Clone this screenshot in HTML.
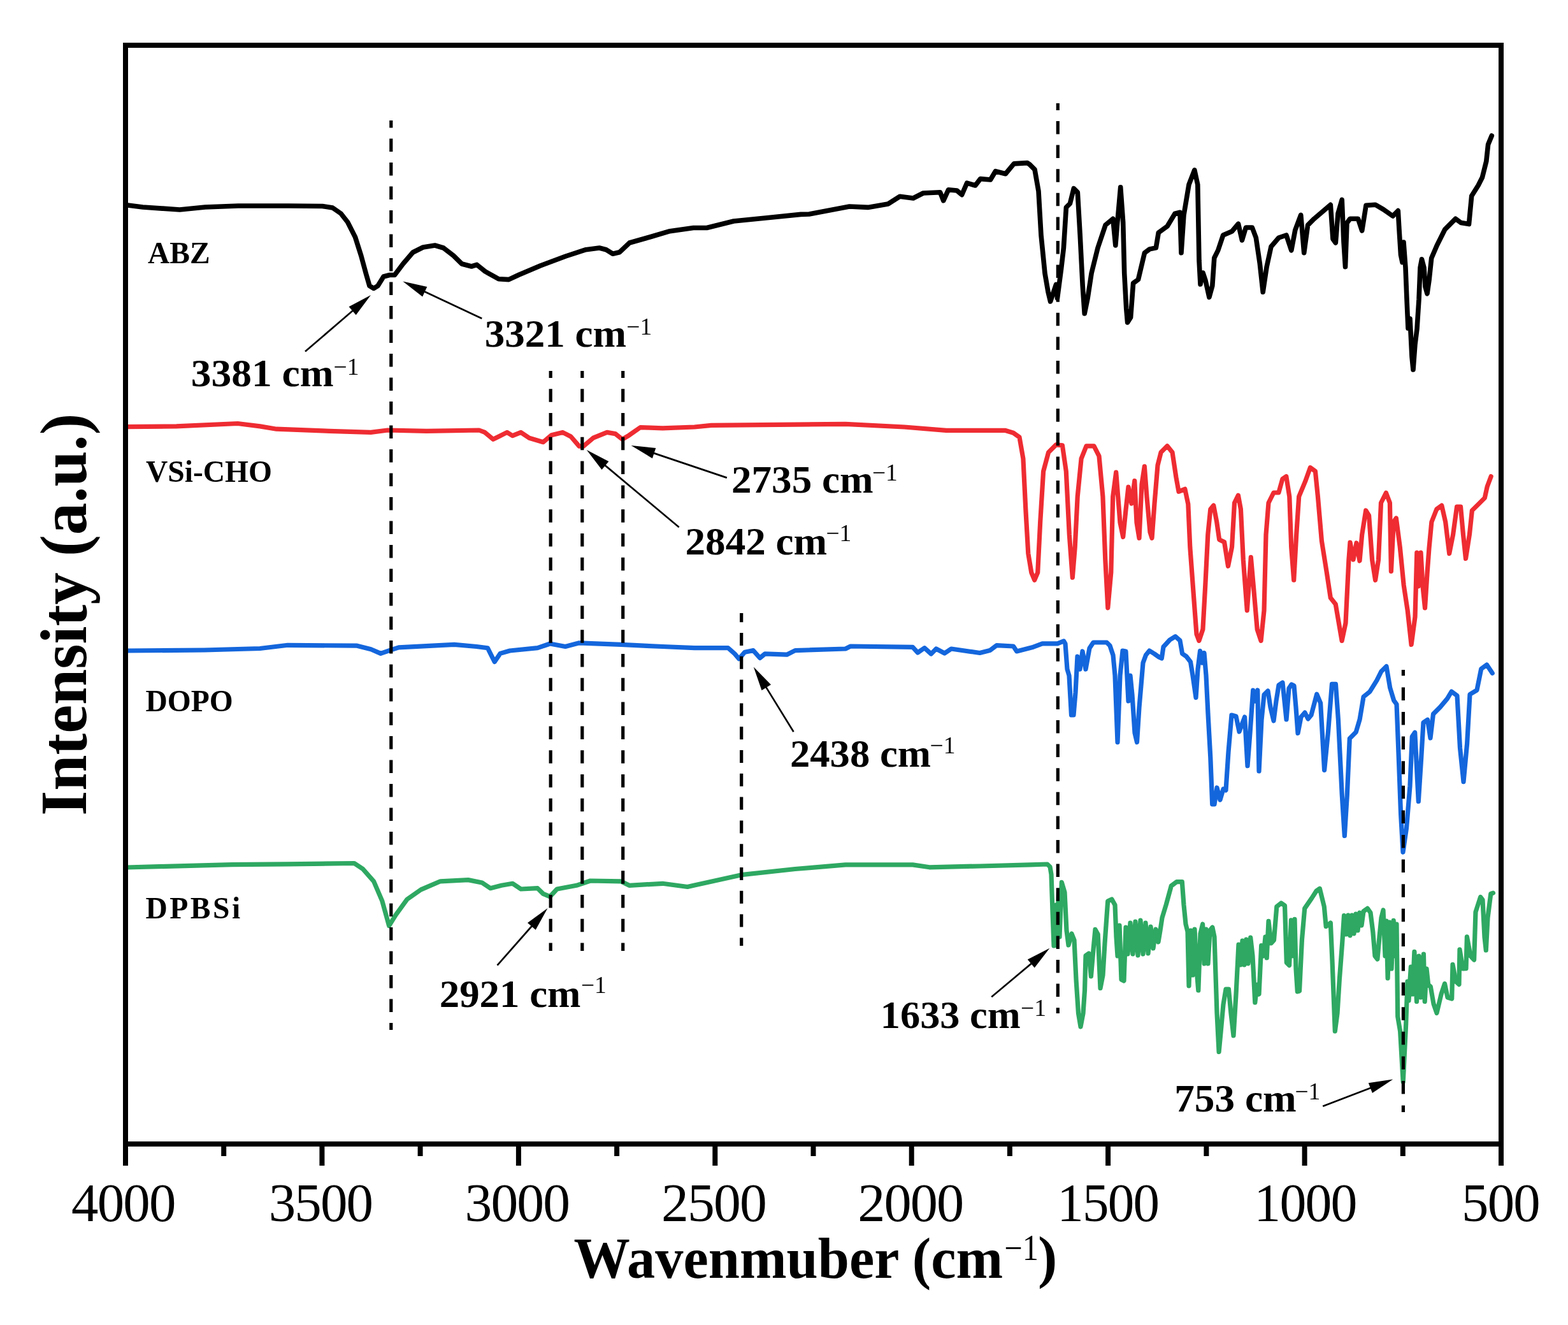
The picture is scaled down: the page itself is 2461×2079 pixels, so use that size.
<!DOCTYPE html>
<html><head><meta charset="utf-8"><title>FTIR spectra</title>
<style>html,body{margin:0;padding:0;background:#fff;overflow:hidden;width:2461px;height:2079px;} svg{display:block;filter:blur(0.6px);}</style>
</head><body>
<svg width="2461" height="2079" viewBox="0 0 2461 2079"><polyline points="200.5,322.0 224.0,325.0 282.0,329.0 322.0,325.0 374.0,323.0 453.0,323.0 506.0,323.5 522.0,326.0 535.0,335.0 545.6,348.5 557.5,372.0 566.7,401.0 574.6,430.0 580.0,448.6 586.5,452.5 593.0,448.6 602.0,434.0 611.5,431.5 619.4,431.5 632.6,414.0 648.0,396.0 664.0,388.0 682.6,385.0 696.0,389.0 711.6,401.0 724.8,414.0 740.0,418.0 748.4,415.4 761.6,426.0 782.7,437.8 798.5,438.6 814.3,431.2 848.5,416.7 888.0,402.0 919.7,391.7 940.7,389.0 951.3,391.7 961.8,398.3 972.4,395.7 988.0,381.0 1019.8,372.0 1051.4,362.7 1088.3,357.5 1109.3,357.5 1151.5,347.0 1204.0,341.7 1256.9,336.4 1270.0,336.0 1333.2,324.0 1362.2,325.4 1393.8,320.0 1412.3,308.3 1433.3,311.0 1449.0,303.0 1475.5,301.7 1480.7,314.8 1488.6,297.7 1501.8,299.0 1509.7,305.6 1517.6,287.2 1530.8,291.0 1538.7,280.6 1554.5,282.0 1562.4,268.7 1578.2,272.7 1591.4,256.9 1612.5,255.6 1616.0,258.0 1624.0,266.0 1630.0,300.0 1634.0,369.0 1640.0,429.0 1645.0,458.0 1648.6,473.0 1657.5,446.4 1659.5,468.0 1665.5,422.6 1669.4,389.0 1673.4,325.4 1679.4,319.4 1685.3,295.6 1691.3,301.6 1695.2,369.0 1699.2,448.4 1702.2,492.0 1707.1,468.0 1713.1,428.6 1723.0,388.9 1735.0,353.2 1746.8,343.3 1750.8,385.0 1753.8,349.0 1758.7,293.7 1762.7,349.0 1764.7,428.6 1767.7,484.0 1769.6,506.0 1774.6,498.0 1778.6,444.4 1786.5,438.5 1796.4,396.8 1804.4,390.9 1814.3,388.9 1818.3,365.0 1832.1,355.0 1844.0,335.3 1852.0,333.3 1854.0,396.8 1858.0,337.3 1866.0,289.7 1874.8,266.9 1879.8,289.7 1882.0,408.7 1884.0,446.0 1888.0,428.0 1892.0,440.0 1897.9,466.3 1902.8,448.4 1905.8,404.8 1911.7,392.9 1919.7,369.0 1933.6,363.0 1943.5,351.2 1949.4,377.0 1955.4,357.0 1965.3,357.0 1971.3,373.0 1977.2,412.7 1982.2,458.3 1988.1,418.7 1995.0,387.0 2007.0,373.0 2018.9,369.0 2026.8,392.9 2032.8,361.0 2041.7,337.3 2046.7,396.8 2052.6,353.2 2062.5,343.3 2088.3,321.4 2092.0,375.0 2096.3,381.0 2100.0,335.0 2106.2,313.5 2109.0,380.0 2111.5,418.7 2114.0,350.0 2118.9,343.2 2131.5,343.2 2137.7,362.0 2144.0,322.3 2158.7,321.2 2171.3,328.6 2186.0,339.0 2194.3,330.6 2196.0,360.0 2198.5,400.0 2201.0,411.6 2203.0,380.0 2206.0,420.0 2208.0,470.0 2210.0,515.0 2213.0,500.0 2216.0,560.0 2218.0,580.0 2221.0,540.0 2224.0,516.0 2227.0,470.0 2229.0,420.0 2231.5,406.8 2235.0,420.0 2237.0,450.0 2240.0,460.8 2243.0,440.0 2246.7,405.0 2255.2,385.2 2267.8,360.0 2284.5,343.2 2293.0,349.5 2305.5,351.6 2309.7,307.6 2320.2,290.8 2326.5,278.2 2332.8,253.0 2335.6,226.8 2341.3,213.0" fill="none" stroke="#000" stroke-width="7.6" stroke-linejoin="round" stroke-linecap="round"/>
<polyline points="198.7,669.7 277.0,668.9 373.0,664.5 408.0,668.9 434.0,673.2 517.0,676.3 582.0,678.4 608.4,675.0 669.4,676.3 752.0,675.0 761.0,678.4 774.0,689.3 782.7,685.0 795.8,678.4 804.5,683.7 817.6,678.4 830.7,687.2 852.5,693.7 865.5,682.8 883.0,678.4 896.0,685.0 909.0,700.2 915.6,700.2 931.0,687.2 952.7,678.4 965.8,680.6 976.7,689.3 987.6,682.8 1005.0,670.6 1040.0,671.9 1090.0,670.0 1116.3,667.4 1327.0,665.3 1419.3,670.0 1485.0,675.3 1577.4,675.3 1590.5,679.3 1600.0,686.0 1605.9,719.7 1609.8,799.0 1613.8,868.5 1618.8,898.3 1623.7,910.2 1628.7,898.3 1632.7,818.9 1637.6,739.5 1645.6,709.8 1657.5,697.9 1667.4,698.8 1673.3,739.5 1678.3,838.7 1683.3,906.2 1687.2,858.6 1691.2,779.2 1697.1,719.7 1705.0,699.8 1717.0,699.8 1725.0,715.7 1730.9,779.2 1734.8,878.4 1738.8,953.8 1743.8,898.3 1746.7,779.2 1751.7,741.0 1758.0,820.0 1762.7,842.5 1767.0,800.0 1771.0,764.0 1776.0,790.0 1780.8,754.5 1784.0,820.0 1788.0,844.3 1792.0,760.0 1796.3,731.8 1800.0,780.0 1805.0,835.0 1808.0,844.3 1812.0,790.0 1817.0,730.0 1822.1,709.8 1832.0,699.8 1840.0,709.8 1846.0,749.4 1850.0,771.3 1859.8,767.3 1864.8,791.0 1867.8,858.6 1873.7,938.0 1878.0,995.0 1881.9,1005.4 1887.9,987.5 1891.8,918.0 1895.8,838.7 1899.8,799.0 1904.7,793.0 1909.7,818.9 1913.7,846.7 1921.6,850.6 1927.5,888.3 1933.5,858.6 1937.5,789.0 1943.4,777.2 1947.4,799.0 1951.3,878.4 1957.3,957.8 1963.3,874.4 1967.2,918.0 1973.2,987.5 1979.1,1005.4 1984.0,957.8 1987.0,838.7 1991.0,789.0 1999.0,773.0 2006.9,773.0 2012.9,751.4 2018.8,747.5 2023.8,779.2 2026.7,858.6 2030.7,910.2 2034.7,838.7 2038.7,779.2 2048.6,755.4 2056.5,733.6 2064.4,739.5 2068.4,779.2 2074.4,848.7 2082.3,898.3 2088.3,938.0 2096.2,947.9 2106.1,1005.4 2112.0,977.7 2116.9,878.5 2119.0,851.0 2124.0,878.0 2129.0,852.0 2134.0,880.0 2137.7,838.8 2143.7,801.0 2148.6,809.0 2153.6,878.5 2158.6,910.3 2163.5,878.5 2167.5,789.0 2175.4,773.3 2181.4,789.0 2183.4,896.4 2187.3,819.0 2191.3,813.0 2197.3,858.6 2203.2,918.2 2209.2,957.9 2215.1,1011.5 2221.0,967.8 2223.8,867.0 2226.0,920.0 2230.0,867.0 2233.0,920.0 2236.5,954.0 2240.0,900.0 2243.0,860.0 2246.9,819.0 2254.8,799.0 2262.8,793.1 2268.7,819.0 2274.7,868.6 2280.6,838.8 2286.6,795.1 2292.5,795.1 2296.5,838.8 2300.5,876.5 2306.4,838.8 2310.4,801.0 2320.3,791.2 2330.3,781.2 2334.2,763.4 2340.2,747.5" fill="none" stroke="#EE2C32" stroke-width="7.2" stroke-linejoin="round" stroke-linecap="round"/>
<polyline points="198.7,1021.0 320.7,1020.0 408.0,1017.5 451.5,1012.3 560.4,1013.2 582.2,1018.8 597.5,1025.4 612.7,1020.1 625.8,1015.8 713.0,1011.4 747.8,1014.5 765.3,1016.7 776.2,1038.4 785.0,1025.4 800.2,1021.0 843.7,1016.7 863.3,1010.0 887.3,1014.5 909.0,1008.8 974.5,1011.4 1039.9,1014.5 1090.0,1016.6 1142.7,1016.6 1153.2,1025.9 1159.8,1033.8 1169.0,1023.2 1182.2,1020.6 1192.7,1032.4 1200.6,1025.9 1234.9,1027.2 1248.0,1020.6 1327.0,1018.0 1335.0,1014.0 1432.5,1015.3 1440.4,1024.0 1451.0,1016.6 1461.4,1026.0 1469.3,1018.0 1482.5,1025.0 1493.0,1018.0 1537.8,1024.5 1553.6,1020.6 1564.2,1012.7 1590.5,1014.0 1595.8,1021.9 1620.0,1015.8 1635.9,1009.8 1659.7,1009.8 1669.6,1005.9 1672.0,1010.0 1675.0,1050.0 1678.0,1060.0 1681.5,1122.0 1685.0,1122.0 1688.0,1087.0 1691.0,1030.0 1695.0,1050.0 1699.0,1022.0 1704.0,1050.0 1710.0,1017.0 1716.0,1008.0 1737.0,1008.0 1742.0,1013.0 1747.0,1028.0 1750.0,1060.0 1754.0,1164.6 1758.0,1060.0 1762.0,1021.0 1767.0,1022.0 1771.0,1100.0 1774.0,1060.0 1777.0,1090.0 1781.0,1150.0 1784.5,1164.6 1788.0,1110.0 1790.0,1087.0 1794.0,1040.0 1798.5,1027.7 1804.0,1021.0 1812.0,1026.0 1819.0,1031.0 1823.3,1033.0 1826.0,1015.0 1836.0,1004.0 1844.8,998.6 1852.0,1005.0 1855.6,1025.6 1862.0,1030.0 1868.5,1038.5 1872.0,1060.0 1877.0,1094.5 1880.0,1050.0 1883.6,1021.3 1887.0,1040.0 1890.0,1024.5 1893.0,1060.0 1896.0,1120.0 1899.8,1188.4 1902.7,1261.8 1906.0,1262.0 1910.0,1236.0 1915.0,1255.0 1920.0,1238.0 1924.0,1240.0 1928.0,1180.0 1933.0,1122.0 1940.0,1124.0 1945.0,1148.0 1953.6,1125.0 1958.0,1201.7 1962.0,1150.0 1966.7,1083.0 1970.0,1100.0 1973.8,1083.0 1976.0,1210.0 1980.0,1130.0 1984.0,1090.0 1990.0,1084.0 1994.0,1110.0 1999.0,1131.0 2003.0,1100.0 2007.0,1075.0 2013.0,1071.0 2016.0,1100.0 2019.0,1129.0 2023.0,1080.0 2027.0,1074.0 2031.0,1076.0 2034.0,1110.0 2037.0,1150.5 2042.0,1125.0 2048.0,1118.0 2053.0,1128.0 2058.0,1122.0 2066.7,1089.2 2072.6,1103.1 2078.6,1208.3 2084.5,1148.7 2090.5,1073.3 2096.4,1073.3 2100.4,1128.9 2106.3,1247.9 2110.3,1311.4 2114.3,1247.9 2118.3,1158.7 2128.2,1148.7 2134.1,1128.9 2140.1,1093.2 2150.0,1085.2 2161.0,1067.4 2167.9,1053.5 2176.0,1045.5 2181.7,1079.3 2187.7,1099.1 2192.0,1105.0 2195.3,1189.0 2198.6,1277.4 2202.0,1337.1 2207.5,1299.5 2213.0,1233.2 2216.3,1155.8 2220.7,1149.2 2226.3,1257.5 2230.7,1189.0 2234.0,1133.7 2240.6,1129.3 2245.0,1158.0 2249.5,1120.4 2260.5,1109.4 2271.6,1096.1 2278.2,1085.0 2287.0,1091.7 2291.5,1173.5 2297.0,1226.6 2302.6,1166.9 2307.0,1089.5 2318.0,1082.9 2324.7,1049.7 2333.5,1043.0 2342.3,1056.3" fill="none" stroke="#1466DC" stroke-width="7.2" stroke-linejoin="round" stroke-linecap="round"/>
<polyline points="198.7,1361.0 364.3,1356.7 451.5,1355.8 556.0,1354.5 569.2,1363.2 586.6,1382.8 599.7,1413.3 610.6,1452.5 621.5,1435.1 638.9,1411.1 660.7,1395.9 691.2,1382.8 734.8,1380.6 756.6,1385.0 769.7,1393.7 787.1,1389.3 804.5,1386.3 817.6,1395.0 843.7,1393.7 852.5,1402.4 863.3,1406.8 874.2,1395.0 904.8,1389.3 926.5,1382.0 974.5,1382.8 987.6,1389.3 1039.9,1386.3 1079.0,1391.5 1090.0,1389.0 1163.8,1372.7 1248.0,1363.5 1327.0,1356.9 1432.5,1356.9 1458.8,1360.8 1537.8,1359.0 1616.9,1356.9 1643.8,1356.0 1648.0,1360.0 1650.0,1372.0 1652.0,1430.0 1654.0,1484.0 1657.0,1420.0 1659.0,1484.0 1661.5,1400.0 1663.0,1470.0 1666.3,1384.4 1671.0,1400.0 1674.0,1460.0 1677.0,1483.0 1682.0,1465.0 1686.0,1475.0 1689.0,1537.0 1692.5,1590.0 1696.0,1611.0 1700.0,1590.0 1702.5,1554.0 1704.0,1499.5 1709.0,1496.0 1712.4,1532.0 1716.0,1490.0 1719.0,1458.4 1723.2,1466.0 1727.0,1550.5 1731.0,1530.0 1734.0,1480.0 1738.7,1414.0 1745.0,1411.0 1750.0,1420.0 1752.0,1470.0 1754.0,1500.0 1757.0,1452.0 1760.0,1537.0 1764.0,1539.0 1767.0,1455.0 1770.0,1497.0 1774.0,1448.0 1778.0,1497.0 1782.0,1446.0 1786.0,1499.0 1790.0,1444.0 1794.0,1497.0 1798.0,1448.0 1802.0,1496.0 1806.0,1454.0 1810.0,1488.0 1814.0,1458.0 1818.0,1478.0 1821.0,1460.0 1824.0,1440.0 1830.3,1419.3 1838.3,1390.0 1846.8,1383.6 1855.3,1383.6 1858.0,1420.0 1861.0,1450.0 1864.0,1462.0 1866.0,1547.0 1869.0,1460.0 1872.0,1530.0 1875.0,1458.0 1878.0,1520.0 1880.8,1554.0 1884.0,1465.0 1887.6,1450.0 1890.0,1512.0 1893.0,1458.0 1896.0,1512.0 1899.0,1460.0 1902.9,1455.0 1906.0,1470.0 1910.0,1590.0 1913.1,1650.5 1916.0,1620.0 1920.0,1576.0 1924.0,1552.0 1928.4,1552.0 1932.0,1590.0 1936.0,1625.0 1940.0,1560.0 1944.0,1482.0 1947.0,1514.0 1950.0,1476.0 1953.0,1514.0 1956.0,1474.0 1959.0,1512.0 1962.7,1471.0 1966.0,1500.0 1969.8,1573.0 1973.0,1545.0 1976.0,1560.0 1979.7,1483.5 1983.0,1500.0 1986.0,1470.0 1988.2,1503.0 1991.0,1445.3 1995.0,1480.0 1999.5,1475.0 2003.8,1422.6 2010.8,1417.0 2016.5,1421.0 2019.3,1510.4 2023.6,1514.7 2026.4,1443.8 2029.0,1500.0 2032.0,1442.4 2034.0,1520.0 2036.3,1555.8 2039.5,1555.0 2043.4,1475.0 2047.7,1425.4 2058.7,1409.4 2066.0,1398.0 2071.3,1394.2 2078.3,1422.5 2081.2,1453.7 2088.3,1448.0 2091.0,1507.5 2095.3,1618.0 2099.0,1590.0 2102.4,1535.8 2106.7,1479.2 2109.5,1436.7 2113.0,1466.0 2116.0,1436.0 2119.0,1468.0 2122.0,1436.0 2125.0,1465.0 2128.0,1434.0 2131.0,1460.0 2134.0,1432.0 2137.0,1452.0 2140.0,1430.0 2146.3,1425.3 2151.0,1432.0 2154.8,1462.0 2158.0,1500.0 2161.9,1505.0 2165.0,1470.0 2168.0,1440.0 2171.0,1428.0 2174.0,1500.0 2176.0,1445.0 2178.1,1535.0 2181.0,1447.0 2184.0,1520.0 2187.2,1444.4 2190.0,1500.0 2192.0,1450.0 2193.7,1595.0 2197.6,1618.0 2202.2,1697.5 2206.7,1606.8 2209.0,1540.0 2211.0,1570.0 2214.4,1517.0 2217.0,1560.0 2219.9,1493.4 2223.5,1571.5 2227.0,1500.0 2230.0,1565.0 2234.4,1497.0 2236.2,1571.5 2239.0,1520.0 2241.7,1545.0 2245.3,1548.0 2250.0,1575.0 2255.0,1589.5 2262.0,1560.0 2267.5,1543.4 2272.0,1565.0 2278.7,1567.0 2280.0,1513.4 2285.0,1540.0 2290.0,1544.6 2291.0,1489.8 2296.0,1520.0 2301.0,1519.7 2302.4,1469.8 2308.0,1500.0 2313.6,1506.0 2316.0,1431.0 2323.6,1407.5 2327.0,1412.0 2330.0,1470.0 2332.3,1491.0 2335.0,1440.0 2339.8,1402.5 2343.5,1401.2" fill="none" stroke="#2EA862" stroke-width="7.2" stroke-linejoin="round" stroke-linecap="round"/>
<line x1="613.8" y1="189" x2="613.8" y2="1616" stroke="#000" stroke-width="5.2" stroke-dasharray="20.5 17.0" stroke-dashoffset="9.1"/>
<line x1="864.2" y1="582" x2="864.2" y2="1492" stroke="#000" stroke-width="5.2" stroke-dasharray="20.5 17.3" stroke-dashoffset="9.6"/>
<line x1="913.8" y1="582" x2="913.8" y2="1492" stroke="#000" stroke-width="5.2" stroke-dasharray="20.5 17.3" stroke-dashoffset="9.6"/>
<line x1="977.7" y1="582" x2="977.7" y2="1492" stroke="#000" stroke-width="5.2" stroke-dasharray="20.5 17.3" stroke-dashoffset="9.6"/>
<line x1="1163.7" y1="962" x2="1163.7" y2="1484" stroke="#000" stroke-width="5.2" stroke-dasharray="20 16.8" stroke-dashoffset="5.8"/>
<line x1="1660.3" y1="162" x2="1660.3" y2="1590" stroke="#000" stroke-width="5.2" stroke-dasharray="20.5 17.1" stroke-dashoffset="9.6"/>
<line x1="2202.4" y1="1051" x2="2202.4" y2="1745" stroke="#000" stroke-width="5.2" stroke-dasharray="20.5 18.1" stroke-dashoffset="11.2"/>
<line x1="479.0" y1="551.6" x2="556.2" y2="485.2" stroke="#000" stroke-width="2.7"/>
<polygon points="582.0,463.0 558.7,494.2 547.6,481.3" fill="#000"/>
<line x1="756.3" y1="499.7" x2="663.1" y2="456.0" stroke="#000" stroke-width="2.7"/>
<polygon points="632.3,441.6 670.3,450.0 663.1,465.4" fill="#000"/>
<line x1="1140.8" y1="749.6" x2="1022.8" y2="709.9" stroke="#000" stroke-width="2.7"/>
<polygon points="990.6,699.0 1029.3,703.1 1023.9,719.2" fill="#000"/>
<line x1="1065.7" y1="827.3" x2="946.9" y2="727.9" stroke="#000" stroke-width="2.7"/>
<polygon points="920.8,706.1 955.4,724.0 944.5,737.0" fill="#000"/>
<line x1="1245.5" y1="1148.3" x2="1200.6" y2="1075.4" stroke="#000" stroke-width="2.7"/>
<polygon points="1182.8,1046.4 1210.0,1074.3 1195.5,1083.2" fill="#000"/>
<line x1="780.5" y1="1514.6" x2="837.0" y2="1450.5" stroke="#000" stroke-width="2.7"/>
<polygon points="859.5,1425.0 840.7,1459.1 828.0,1447.9" fill="#000"/>
<line x1="1556.2" y1="1564.2" x2="1621.4" y2="1509.6" stroke="#000" stroke-width="2.7"/>
<polygon points="1647.4,1487.7 1623.7,1518.6 1612.8,1505.6" fill="#000"/>
<line x1="2076.2" y1="1735.7" x2="2154.6" y2="1705.7" stroke="#000" stroke-width="2.7"/>
<polygon points="2186.3,1693.5 2153.9,1715.0 2147.8,1699.2" fill="#000"/>
<rect x="197" y="71" width="2159" height="1724" fill="none" stroke="#000" stroke-width="8"/>
<line x1="197.0" y1="1795" x2="197.0" y2="1829" stroke="#000" stroke-width="8"/>
<text transform="translate(112.08,1916) scale(1.0102,1)" x="0" y="0" font-family="'Liberation Serif','Times New Roman',serif" font-size="84" letter-spacing="-1.8">4000</text>
<line x1="351.2" y1="1795" x2="351.2" y2="1814" stroke="#000" stroke-width="8"/>
<line x1="505.4" y1="1795" x2="505.4" y2="1829" stroke="#000" stroke-width="8"/>
<text transform="translate(421.65,1916) scale(1.0116,1)" x="0" y="0" font-family="'Liberation Serif','Times New Roman',serif" font-size="84" letter-spacing="-1.8">3500</text>
<line x1="659.6" y1="1795" x2="659.6" y2="1814" stroke="#000" stroke-width="8"/>
<line x1="813.9" y1="1795" x2="813.9" y2="1829" stroke="#000" stroke-width="8"/>
<text transform="translate(729.42,1916) scale(1.0194,1)" x="0" y="0" font-family="'Liberation Serif','Times New Roman',serif" font-size="84" letter-spacing="-1.8">3000</text>
<line x1="968.1" y1="1795" x2="968.1" y2="1814" stroke="#000" stroke-width="8"/>
<line x1="1122.3" y1="1795" x2="1122.3" y2="1829" stroke="#000" stroke-width="8"/>
<text transform="translate(1038.02,1916) scale(1.0200,1)" x="0" y="0" font-family="'Liberation Serif','Times New Roman',serif" font-size="84" letter-spacing="-1.8">2500</text>
<line x1="1276.5" y1="1795" x2="1276.5" y2="1814" stroke="#000" stroke-width="8"/>
<line x1="1430.7" y1="1795" x2="1430.7" y2="1829" stroke="#000" stroke-width="8"/>
<text transform="translate(1346.19,1916) scale(1.0277,1)" x="0" y="0" font-family="'Liberation Serif','Times New Roman',serif" font-size="84" letter-spacing="-1.8">2000</text>
<line x1="1584.9" y1="1795" x2="1584.9" y2="1814" stroke="#000" stroke-width="8"/>
<line x1="1739.1" y1="1795" x2="1739.1" y2="1829" stroke="#000" stroke-width="8"/>
<text transform="translate(1659.28,1916) scale(0.9888,1)" x="0" y="0" font-family="'Liberation Serif','Times New Roman',serif" font-size="84" letter-spacing="-1.8">1500</text>
<line x1="1893.4" y1="1795" x2="1893.4" y2="1814" stroke="#000" stroke-width="8"/>
<line x1="2047.6" y1="1795" x2="2047.6" y2="1829" stroke="#000" stroke-width="8"/>
<text transform="translate(1968.32,1916) scale(0.9974,1)" x="0" y="0" font-family="'Liberation Serif','Times New Roman',serif" font-size="84" letter-spacing="-1.8">1000</text>
<line x1="2201.8" y1="1795" x2="2201.8" y2="1814" stroke="#000" stroke-width="8"/>
<line x1="2356.0" y1="1795" x2="2356.0" y2="1829" stroke="#000" stroke-width="8"/>
<text transform="translate(2294.05,1916) scale(1.0096,1)" x="0" y="0" font-family="'Liberation Serif','Times New Roman',serif" font-size="84" letter-spacing="-1.8">500</text>
<text transform="translate(900.6,2005) scale(0.9716,1)" x="0" y="0" font-family="'Liberation Serif','Times New Roman',serif" font-weight="bold" font-size="91">Wavenmuber (cm</text>
<text transform="translate(1576.3,1977) scale(0.9,1)" x="0" y="0" font-family="'Liberation Serif','Times New Roman',serif" font-size="56">−1</text>
<text x="1629" y="2003" font-family="'Liberation Serif','Times New Roman',serif" font-weight="bold" font-size="91">)</text>
<text transform="translate(134.5,1280) rotate(-90) scale(0.981,1)" x="0" y="0" font-family="'Liberation Serif','Times New Roman',serif" font-weight="bold" font-size="103">Intensity (a.u.)</text>
<text x="232" y="413" font-family="'Liberation Serif','Times New Roman',serif" font-weight="bold" font-size="47.5" letter-spacing="0">ABZ</text>
<text x="229" y="756" font-family="'Liberation Serif','Times New Roman',serif" font-weight="bold" font-size="47.5" letter-spacing="0">VSi-CHO</text>
<text x="228.5" y="1116" font-family="'Liberation Serif','Times New Roman',serif" font-weight="bold" font-size="47.5" letter-spacing="0">DOPO</text>
<text x="228.5" y="1441" font-family="'Liberation Serif','Times New Roman',serif" font-weight="bold" font-size="47.5" letter-spacing="3.5">DPBSi</text>
<text transform="translate(299.75,605.60) scale(1.0241,1)" x="0" y="0" font-family="'Liberation Serif','Times New Roman',serif" font-weight="bold" font-size="62">3381 cm</text>
<text x="523.6" y="587.5" font-family="'Liberation Serif','Times New Roman',serif" font-size="37.5">−1</text>
<text transform="translate(760.66,543.60) scale(1.0176,1)" x="0" y="0" font-family="'Liberation Serif','Times New Roman',serif" font-weight="bold" font-size="62">3321 cm</text>
<text x="983.3" y="524.5" font-family="'Liberation Serif','Times New Roman',serif" font-size="37.5">−1</text>
<text transform="translate(1147.96,772.80) scale(1.0185,1)" x="0" y="0" font-family="'Liberation Serif','Times New Roman',serif" font-weight="bold" font-size="62">2735 cm</text>
<text x="1368.9" y="753.5" font-family="'Liberation Serif','Times New Roman',serif" font-size="37.5">−1</text>
<text transform="translate(1075.56,869.70) scale(1.0181,1)" x="0" y="0" font-family="'Liberation Serif','Times New Roman',serif" font-weight="bold" font-size="62">2842 cm</text>
<text x="1296.4" y="848.8" font-family="'Liberation Serif','Times New Roman',serif" font-size="37.5">−1</text>
<text transform="translate(1239.88,1202.80) scale(1.0111,1)" x="0" y="0" font-family="'Liberation Serif','Times New Roman',serif" font-weight="bold" font-size="62">2438 cm</text>
<text x="1459.6" y="1182.0" font-family="'Liberation Serif','Times New Roman',serif" font-size="37.5">−1</text>
<text transform="translate(689.77,1579.50) scale(1.0139,1)" x="0" y="0" font-family="'Liberation Serif','Times New Roman',serif" font-weight="bold" font-size="62">2921 cm</text>
<text x="911.9" y="1557.7" font-family="'Liberation Serif','Times New Roman',serif" font-size="37.5">−1</text>
<text transform="translate(1381.87,1612.90) scale(1.0052,1)" x="0" y="0" font-family="'Liberation Serif','Times New Roman',serif" font-weight="bold" font-size="62">1633 cm</text>
<text x="1602.0" y="1593.5" font-family="'Liberation Serif','Times New Roman',serif" font-size="37.5">−1</text>
<text transform="translate(1843.24,1744.20) scale(1.0201,1)" x="0" y="0" font-family="'Liberation Serif','Times New Roman',serif" font-weight="bold" font-size="62">753 cm</text>
<text x="2032.4" y="1725.1" font-family="'Liberation Serif','Times New Roman',serif" font-size="37.5">−1</text></svg>
</body></html>
